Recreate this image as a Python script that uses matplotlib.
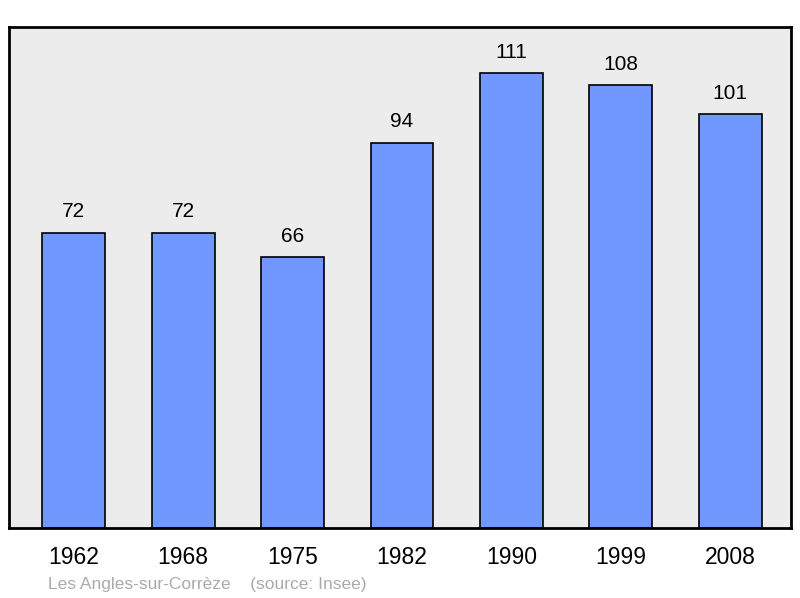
import matplotlib
matplotlib.use("Agg")
import matplotlib.pyplot as plt

years = ["1962", "1968", "1975", "1982", "1990", "1999", "2008"]
population = [72, 72, 66, 94, 111, 108, 101]
commune = "Les Angles-sur-Corrèze"
source = "(source: Insee)"

plt.rcParams["font.family"] = ["Liberation Sans", "DejaVu Sans"]

fig = plt.figure(figsize=(8.0, 5.98), dpi=100)
ax = fig.add_axes([9 / 800, 70 / 598, 782 / 800, 501 / 598])
ax.set_facecolor("#ececec")

x = list(range(len(years)))
ax.bar(x, population, width=0.575, color="#7098ff", edgecolor="black",
       linewidth=1.2, zorder=2)
for xi, v in zip(x, population):
    ax.annotate(str(v), (xi, v), xytext=(0, 15), textcoords="offset points",
                ha="center", va="center", fontsize=15)

ax.set_xlim(-0.593, 6.557)
ax.set_ylim(0, 122.2)
ax.set_xticks(x)
ax.set_xticklabels(years, fontsize=16.5)
ax.tick_params(axis="x", length=0, pad=13)
ax.set_yticks([])
for sp in ax.spines.values():
    sp.set_linewidth(2)

fig.text(48 / 800, 1 - 585 / 598, commune + "    " + source, fontsize=12.5,
         color="#aaaaaa", ha="left", va="center")

fig.savefig("out.png", dpi=100)
